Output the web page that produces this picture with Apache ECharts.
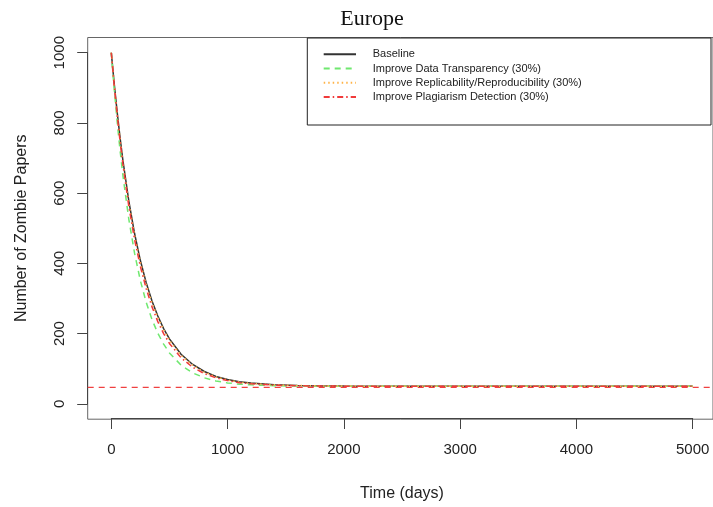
<!DOCTYPE html>
<html>
<head>
<meta charset="utf-8">
<script src="https://cdn.jsdelivr.net/npm/echarts@6/dist/echarts.min.js"></script>
<style>
  html, body { margin: 0; padding: 0; background: #ffffff; }
  #chart { width: 713px; height: 507px; }
</style>
</head>
<body>
<div id="chart"></div>
<script>
// ---- data ----
const chartTitle = 'Europe';
const xTitle = 'Time (days)';
const yTitle = 'Number of Zombie Papers';
const xTicks = [0, 1000, 2000, 3000, 4000, 5000];
const yTicks = [0, 200, 400, 600, 800, 1000];
const equilibrium = 50;

const days = [0, 25, 50, 75, 100, 150, 200, 250, 300, 350, 400, 450, 500, 600, 700, 800, 900, 1000, 1100, 1200, 1400, 1600, 1800, 2000, 2500, 3000, 3500, 4000, 4500, 5000];
const baseline     = [1000, 912, 832, 759, 693, 579, 485, 408, 345, 293, 250, 214, 185, 141, 112, 92, 78, 69, 63, 59, 54, 52, 51, 50.5, 50, 50, 50, 50, 50, 50];
const transparency = [1000, 897, 805, 723, 650, 527, 429, 351, 289, 240, 201, 170, 145, 110, 88, 74, 65, 59.5, 56, 54, 51.5, 50.6, 50.2, 50, 50, 50, 50, 50, 50, 50];
const replicability = [1000, 911, 829, 757, 689, 574, 480, 403, 340, 288, 246, 211, 181, 138, 110, 90, 77, 68, 62, 58, 54, 52, 51, 50.5, 50, 50, 50, 50, 50, 50];
const plagiarism   = [1000, 907, 824, 748, 681, 564, 468, 391, 328, 276, 234, 200, 172, 131, 104, 86, 74, 66, 60, 57, 53, 51.3, 50.6, 50.3, 50, 50, 50, 50, 50, 50];

const seriesNames = [
  'Baseline',
  'Improve Data Transparency (30%)',
  'Improve Replicability/Reproducibility (30%)',
  'Improve Plagiarism Detection (30%)'
];
const seriesValues = [baseline, transparency, replicability, plagiarism];

// ---- styles ----
const lineStyles = [
  { color: '#333333', width: 1.5, type: 'solid' },
  { color: '#6fe86f', width: 1.5, type: [6, 5] },
  { color: '#ffb347', width: 1.5, type: [1.5, 3] },
  { color: '#f03a3a', width: 1.5, type: [6, 3, 1.5, 3] }
];

const FONT = 'Liberation Sans, Arial, sans-serif';

// geometry (px)
const frame = { left: 87.7, top: 37.5, width: 628.3, height: 381.7 };   // R plot box
const inner = { left: 111.3, top: 52.7, width: 581.4, height: 352.3 };  // 0..5000 x 0..1000

const xMin = xTicks[0], xMax = xTicks[xTicks.length - 1];
const yMin = yTicks[0], yMax = yTicks[yTicks.length - 1];
const pxPerX = inner.width / (xMax - xMin);
const pxPerY = inner.height / (yMax - yMin);
const frameXMin = xMin - (inner.left - frame.left) / pxPerX;
const frameXMax = frameXMin + frame.width / pxPerX;
const frameYMax = yMax + (inner.top - frame.top) / pxPerY;
const frameYMin = frameYMax - frame.height / pxPerY;

const chart = echarts.init(document.getElementById('chart'), null, { renderer: 'canvas' });

const dataSeries = seriesNames.map((name, i) => ({
  name: name,
  type: 'line',
  xAxisIndex: 1,
  yAxisIndex: 1,
  data: days.map((d, j) => [d, seriesValues[i][j]]),
  showSymbol: false,
  symbol: 'none',
  clip: false,
  lineStyle: lineStyles[i],
  itemStyle: { color: lineStyles[i].color },
  emphasis: { disabled: true },
  z: 3 + i
}));

const option = {
  animation: false,
  backgroundColor: '#ffffff',
  grid: [
    { left: frame.left, top: frame.top, width: frame.width, height: frame.height,
      show: true, borderColor: '#666666', borderWidth: 1, backgroundColor: 'transparent', containLabel: false },
    { left: inner.left, top: inner.top, width: inner.width, height: inner.height, containLabel: false }
  ],
  xAxis: [
    { gridIndex: 0, type: 'value', min: frameXMin, max: frameXMax, show: false },
    { gridIndex: 1, type: 'value', min: xMin, max: xMax, interval: 1000,
      offset: (frame.top + frame.height) - (inner.top + inner.height),
      axisLine: { show: true, onZero: false, lineStyle: { color: '#444444', width: 1 } },
      axisTick: { show: true, length: 11, inside: false, lineStyle: { color: '#444444' } },
      axisLabel: { fontFamily: FONT, fontSize: 15, color: '#222222', margin: 24,
                   formatter: v => String(v) },
      splitLine: { show: false },
      name: xTitle, nameLocation: 'middle', nameGap: 68,
      nameTextStyle: { fontFamily: FONT, fontSize: 16, color: '#222222' }
    }
  ],
  yAxis: [
    { gridIndex: 0, type: 'value', min: frameYMin, max: frameYMax, show: false },
    { gridIndex: 1, type: 'value', min: yMin, max: yMax, interval: 200,
      offset: inner.left - frame.left,
      axisLine: { show: true, onZero: false, lineStyle: { color: '#444444', width: 1 } },
      axisTick: { show: true, length: 10.5, inside: false, lineStyle: { color: '#444444' } },
      axisLabel: { fontFamily: FONT, fontSize: 15, color: '#222222', rotate: 90, margin: 20,
                   formatter: v => String(v) },
      splitLine: { show: false },
      name: yTitle, nameLocation: 'middle', nameGap: 58, nameRotate: 90,
      nameTextStyle: { fontFamily: FONT, fontSize: 16, color: '#222222' }
    }
  ],
  legend: {
    orient: 'vertical',
    left: 322.7,
    top: 48.7,
    padding: 0,
    itemWidth: 32.3,
    itemHeight: 14,
    itemGap: 3,
    selectedMode: false,
    data: seriesNames,
    itemStyle: { opacity: 0 },
    textStyle: { fontFamily: FONT, fontSize: 11, color: '#222222', padding: [0, 0, 0, 11.7] }
  },
  graphic: [
    { type: 'text', x: 372, y: 19, z: 10,
      style: { text: chartTitle, font: '22px "Liberation Serif", "Times New Roman", serif',
               fill: '#111111', align: 'center', verticalAlign: 'middle' } },
    { type: 'rect', z: 1, silent: true,
      shape: { x: 307.3, y: 38, width: 403.7, height: 87 },
      style: { fill: 'transparent', stroke: '#222222', lineWidth: 1 } }
  ],
  series: [
    {
      name: 'equilibrium',
      type: 'line',
      xAxisIndex: 0,
      yAxisIndex: 0,
      data: [[frameXMin, equilibrium], [frameXMax, equilibrium]],
      showSymbol: false,
      symbol: 'none',
      lineStyle: { color: '#f04040', width: 1.4, type: [6, 5], opacity: 1 },
      itemStyle: { color: '#f04040' },
      emphasis: { disabled: true },
      z: 2
    }
  ].concat(dataSeries)
};

chart.setOption(option);
</script>
</body>
</html>
